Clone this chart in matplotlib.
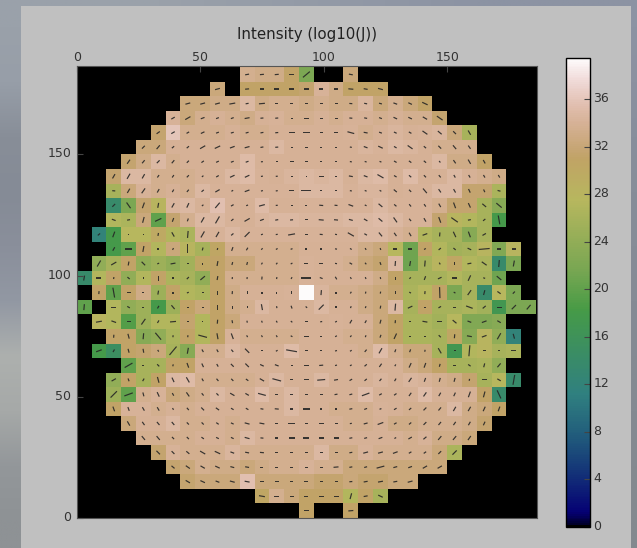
import numpy as np
import matplotlib
matplotlib.use("Agg")
import matplotlib.pyplot as plt
from matplotlib.colors import to_rgb
from matplotlib.patches import Rectangle
from matplotlib.transforms import ScaledTranslation

title = "Intensity (log10(J))"
x_ticks = [0, 50, 100, 150]
y_ticks = [0, 50, 100, 150]
cbar_ticks = [0, 4, 8, 12, 16, 20, 24, 28, 32, 36]
bin_size = 6
vmax = 39.46

# backdrop behind the grey panel, top to bottom
bg_left = ["#9aa1aa", "#979ea8", "#888e98", "#858b96", "#8a8f9b", "#9298a3", "#adb0ae", "#a6a9a8", "#93979a", "#8e9295"]
bg_right = ["#8c93a3", "#8b91a0", "#888e9c", "#878d99", "#868c97", "#858b95", "#848a93", "#848a92", "#838990", "#83898f"]

# first filled column of every row, top row first (0 below = hole in the row)
row_start = [11, 9, 7, 6, 5, 4, 3, 2, 2, 2, 2, 1, 2, 1, 0, 1, 0, 1, 2, 1, 3, 2, 2, 2, 3, 4, 5, 6, 7, 12, 15]

intensity = [
    [33.5, 33, 33, 31, 22, 0, 0, 32.3],
    [32.3, 0, 31, 31, 31, 31, 31.5, 34.2, 33, 31, 31, 31],
    [32.3, 32.3, 33, 33, 34.8, 33, 33.5, 33.5, 33, 33.5, 33, 33, 34.5, 32.3, 33.5, 32.3, 31],
    [34.2, 32.3, 33.5, 34, 33.5, 33, 34, 34.2, 33.5, 33.5, 34, 33.5, 34, 34, 33.5, 34, 33.5, 33.5, 31.5],
    [31.5, 36, 33.5, 33.5, 33.5, 34, 33.5, 33.5, 34, 34, 34, 34, 34, 34.2, 33.5, 34, 34.5, 34, 34.2, 34.5, 32.3, 26],
    [32.3, 32.3, 34, 34, 34, 34, 34, 34, 34, 34.8, 34, 34, 34, 34, 34, 34.5, 34.2, 34.8, 34.5, 34, 33.5, 33.5, 33.5],
    [31.5, 33, 34.8, 33.5, 34, 34, 34, 34, 35, 34, 34, 34, 34, 34, 34, 34, 34, 34, 34, 34, 34, 34.8, 33, 33, 31],
    [31.5, 34.8, 34.8, 33.5, 33.5, 33.5, 34, 34, 34.8, 35, 34.2, 34, 34.5, 34.8, 34.5, 34.8, 34, 34.8, 35, 34, 35, 34, 34, 34.8, 34, 33.5, 33],
    [26, 32.3, 34.2, 33.5, 34, 33.5, 34.8, 34.2, 34.2, 34.2, 34.2, 34.2, 34.2, 34.8, 34.8, 34.8, 34.2, 34.5, 34.5, 34, 34.2, 34.2, 34.8, 34.8, 31.5, 31.5, 26.5],
    [14, 22, 31.5, 28, 34.5, 34.8, 34, 35.5, 34.2, 34, 35, 34, 34, 34.2, 34.2, 34.2, 34.2, 34.2, 34.8, 34.2, 34.2, 34.2, 33.5, 31.5, 31.5, 26, 23],
    [27, 26.5, 32.3, 20, 31.5, 33.5, 34.8, 34.8, 34.2, 34, 34.5, 34.8, 34.8, 34.5, 34.5, 34.5, 34.8, 34.8, 35, 34.8, 34.2, 34.2, 31.5, 28, 27, 26, 18],
    [12, 18, 27.5, 27.5, 30, 27, 26.5, 34.2, 34.2, 34.8, 34.2, 34.2, 34.2, 34.2, 34.2, 34.2, 34.2, 34.2, 34.8, 34.8, 34.2, 33.5, 27, 26, 26, 23, 26],
    [18, 20, 31, 27, 32.3, 28, 26, 30.5, 33.5, 33.5, 33.5, 33.5, 33.5, 34, 34, 34, 34, 33, 32.3, 27.5, 21, 31, 27, 25.5, 26, 28, 22.5, 28],
    [24, 26, 31, 24, 25, 24, 25.5, 30.5, 31, 32.3, 32.3, 33.5, 33.5, 33.5, 34.2, 34, 34, 33.5, 32.3, 31.5, 34.8, 21, 26, 28, 30.5, 27, 26.5, 14, 22],
    [14, 27, 31, 24, 27, 31, 26.5, 26, 24, 31, 33.5, 33.5, 33.5, 33.5, 33.5, 34.2, 34, 34, 34, 34, 33, 31, 26, 26, 26, 27, 26, 26, 21],
    [31, 20, 31, 33, 25, 31, 27, 26.5, 31, 33, 34, 34, 34, 34.2, 39.5, 34.5, 33.5, 33.5, 33, 32.3, 31.5, 26.5, 27.5, 31, 22, 26, 14, 27.5, 22],
    [20, 0, 27, 24, 25, 18, 25, 31, 32.3, 31, 33, 33.5, 34.8, 34, 34, 34, 34.8, 34, 34, 33, 32.3, 34.8, 26, 31, 26, 26, 26.5, 25.5, 17, 22, 22],
    [28, 27, 19, 25, 27, 27, 31.5, 27, 31, 32.3, 34, 34, 34, 34, 34, 34, 34.2, 34, 34, 32.3, 31, 26.5, 26.5, 25.5, 27.5, 22.5, 22.5, 23],
    [31, 31, 23, 24, 26.5, 31, 27, 31, 34.2, 33.5, 33.5, 33.5, 33.5, 34, 34, 34, 33.5, 33.5, 32.3, 31, 26.5, 26.5, 26, 30.5, 23, 28, 24, 12],
    [18, 15, 31, 31.5, 32.3, 26, 23, 33.5, 33.5, 34.8, 34, 34, 34, 35, 34, 34, 34, 34, 33.5, 35, 33.5, 32.3, 32.3, 26, 17, 27, 28, 26, 26.5],
    [20, 26, 26, 31, 31, 34, 34, 34, 34, 34, 34, 34, 34, 34, 34, 34, 34, 34, 34, 33, 32.3, 31, 26, 26, 26.5, 24],
    [24, 31, 26, 31, 34.8, 35, 33.5, 33.5, 33.5, 33.5, 34, 34.8, 34, 34, 34.8, 34, 34, 34, 34.5, 34, 34.5, 34.2, 33.5, 33, 31.5, 26, 27.5, 14],
    [25, 20, 33.5, 34.2, 32.3, 33, 33.5, 34.8, 34, 34, 35, 34, 34.8, 34, 34, 34, 34, 35, 34, 34, 34, 35, 34, 34, 34, 31, 14],
    [31, 34.2, 34.2, 33.5, 34, 33.5, 34, 34, 34, 34, 34, 34, 34.8, 34, 34, 33.5, 33.5, 33.5, 34.2, 34, 33.5, 33.5, 33.5, 34.8, 33, 32.3, 31],
    [32.3, 34, 34, 34.8, 33.5, 33.5, 34, 33.5, 34, 34, 34, 34, 34, 34, 34, 33.5, 33.5, 34, 33, 33, 33.5, 33.5, 33.5, 33, 31.5],
    [33.5, 33.5, 33.5, 33.5, 34, 34, 33.5, 34.8, 34, 34, 34, 34, 34, 34, 34, 34, 34, 34, 33.5, 34.2, 33, 33, 32.3],
    [31.5, 34.2, 33.5, 33.5, 33.5, 34.5, 33.5, 33.5, 33.5, 33.5, 33.5, 34.8, 33, 33, 34.2, 33.5, 33.5, 33.5, 33.5, 32.3, 26.5],
    [31.5, 32.3, 33.5, 33, 33, 32.3, 33, 33.5, 33.5, 34.2, 33.5, 33.5, 32.3, 32.3, 32.3, 32.3, 32.3, 32.3, 32.3],
    [31.5, 32.3, 32.3, 32.3, 35.5, 32.3, 32.3, 32.3, 32.3, 31.5, 31.5, 32.3, 31.5, 31.5, 32.3, 32.3],
    [30.5, 33.5, 32.3, 31, 31, 31, 27, 31, 26],
    [31, 0, 0, 31],
]

# stick length in pixels, same layout as intensity
stick_len = [
    [4, 4, 4, 5, 9, 0, 0, 4],
    [5, 0, 4, 4, 5, 5, 5, 4, 4, 5, 4, 5],
    [5, 5, 5, 6, 3, 6, 3, 3, 3, 3, 3, 3, 3, 3, 4, 4, 6],
    [4, 6, 4, 3, 3, 5, 3, 3, 2, 5, 3, 3, 3, 3, 3, 4, 4, 5, 7],
    [4, 4, 3, 4, 3, 3, 3, 3, 3, 6, 7, 3, 4, 7, 4, 3, 3, 3, 6, 5, 4, 5],
    [4, 5, 3, 3, 6, 6, 5, 5, 3, 3, 2, 3, 2, 2, 2, 4, 5, 3, 6, 3, 4, 5, 4],
    [5, 4, 4, 4, 3, 3, 3, 3, 3, 2, 2, 4, 3, 2, 2, 2, 2, 2, 3, 3, 3, 2, 4, 5, 4],
    [5, 6, 5, 3, 3, 3, 2, 3, 5, 5, 2, 2, 2, 1.5, 5, 2, 4, 4, 7, 3, 3, 3, 3, 3, 3, 3, 3],
    [3, 5, 6, 4, 3, 3, 3, 5, 2, 5, 2, 2, 5, 10, 2, 2, 2, 2, 2, 4, 3, 6, 4, 4, 4, 3, 3],
    [4, 7, 6, 5, 5, 5, 2, 7, 3, 2, 6, 2, 2, 2, 4, 3, 5, 2, 5, 3, 3, 3, 4, 6, 5, 5, 7],
    [4, 3, 6, 7, 4, 3, 6, 8, 3, 6, 4, 3, 3, 3, 5, 4, 4, 4, 5, 6, 3, 4, 6, 8, 3, 3, 9],
    [3, 6, 1.5, 1.5, 3, 5, 7, 7, 6, 3, 7, 2, 2, 7, 3, 3, 2, 7, 3, 5, 4, 4, 5, 4, 6, 6, 4],
    [4, 7, 6, 1.5, 2, 9, 3, 2, 4, 3, 2, 2, 2, 2, 2, 2, 2, 2, 2, 4, 4, 2, 3, 3, 4, 11, 4, 4],
    [7, 6, 4, 5, 2, 5, 2, 2, 5, 3, 3, 2, 2, 2, 4, 4, 2, 3, 2, 3, 5, 5, 6, 2, 3, 4, 6, 7, 6],
    [5, 5, 2, 3, 1.5, 5, 2, 3, 6, 4, 2, 2, 3, 2, 2, 10, 3, 3, 2, 2, 2, 3, 2, 4, 4, 5, 6, 2, 6],
    [3, 10, 4, 2, 4, 2, 2, 2, 4, 3, 3, 2, 2, 3, 0, 5, 2, 2, 2, 2, 3, 2, 3, 11, 2, 6, 5, 4, 3],
    [6, 0, 5, 3, 2, 3, 5, 2, 2, 5, 3, 2, 6, 2, 3, 2, 7, 2, 2, 2, 3, 7, 5, 2, 3, 3, 7, 4, 5, 6, 6],
    [6, 5, 4, 7, 3, 6, 2, 1.5, 4, 3, 2, 2, 2, 2, 3, 2, 2, 4, 3, 4, 3, 2, 5, 5, 5, 4, 5, 4],
    [3, 5, 6, 9, 2, 2, 9, 6, 6, 2, 2, 2, 2, 5, 2, 2, 2, 2, 3, 6, 1.5, 2, 3, 4, 5, 5, 7, 5],
    [6, 3, 4, 4, 2, 11, 6, 3, 3, 3, 6, 2, 2, 11, 3, 2, 2, 2, 3, 6, 3, 3, 2, 6, 2, 11, 3, 2, 5],
    [9, 2, 3, 2, 5, 4, 3, 4, 5, 4, 4, 2, 5, 4, 2, 2, 3, 4, 2, 5, 5, 3, 3, 3, 4, 5],
    [5, 3, 3, 6, 5, 6, 3, 3, 3, 3, 5, 9, 3, 5, 8, 4, 3, 3, 3, 3, 5, 4, 4, 4, 2, 5, 4, 10],
    [9, 9, 4, 5, 3, 5, 3, 3, 5, 4, 8, 3, 3, 3, 3, 3, 3, 8, 3, 3, 4, 5, 4, 4, 6, 6, 9],
    [5, 4, 4, 4, 2, 3, 4, 4, 3, 3, 3, 4, 3, 7, 2, 2, 3, 3, 2, 3, 3, 4, 4, 5, 5, 5, 5],
    [5, 4, 4, 4, 3, 3, 3, 3, 5, 5, 3, 7, 3, 5, 3, 2, 4, 6, 3, 3, 4, 4, 4, 4, 4],
    [5, 5, 3, 3, 3, 3, 3, 5, 3, 3, 6, 6, 5, 5, 3, 3, 4, 2, 4, 4, 5, 5, 5],
    [5, 4, 4, 6, 6, 4, 4, 4, 3, 3, 3, 3, 3, 3, 5, 5, 5, 3, 3, 4, 6],
    [4, 5, 5, 5, 4, 4, 3, 3, 3, 3, 3, 5, 3, 3, 8, 4, 4, 5, 5],
    [5, 5, 4, 5, 5, 4, 4, 3, 4, 3, 3, 3, 4, 5, 4, 5],
    [6, 5, 4, 4, 5, 5, 6, 4, 5],
    [5, 0, 0, 5],
]

# stick angle in degrees from horizontal, same layout
stick_ang = [
    [10, 5, 5, 0, 40, 0, 0, -10],
    [15, 0, 5, 0, 0, 0, 0, 0, 0, -5, -10, -15],
    [15, 15, 15, 10, 10, 5, 0, 0, 0, 0, 0, -5, -10, -15, -20, -25, -25],
    [30, 30, 20, 20, 20, 10, 5, 5, 0, 0, 0, 0, -5, -10, -20, -25, -25, -30, -35],
    [35, 30, 30, 25, 20, 15, 15, 10, 5, 0, 0, 0, 0, -15, -10, -20, -25, -30, -35, -40, -45, -60],
    [45, 50, 40, 40, 30, 25, 20, 15, 10, 5, 0, 0, 0, 0, -10, -20, -25, -30, -35, -40, -45, -50, -55],
    [55, 50, 45, 50, 45, 35, 25, 20, 20, 5, 0, 0, 0, 0, 0, -10, -15, -20, -30, -35, -40, -50, -55, -60, -60],
    [60, 60, 60, 55, 55, 45, 40, 30, 25, 25, 10, 5, 0, 0, 0, 0, -10, -20, -30, -30, -40, -45, -50, -60, -60, -60, -60],
    [-5, 60, 55, 60, 60, 50, 40, 30, 30, 20, 15, 10, 0, 0, 0, 0, -10, -20, -30, -40, -45, -50, -55, -60, -65, -65, -15],
    [45, -55, 70, 80, 60, 65, 40, 50, 30, 20, 15, 5, 0, 0, -5, -5, -20, -25, -40, -40, -50, -55, -60, -70, -65, -40, -40],
    [-20, 10, 75, 25, 70, 70, 60, 60, 40, 30, 20, 10, 5, 0, -5, -5, -15, -30, -40, -55, -50, -60, -70, -35, 10, 40, -80],
    [40, 70, 0, 0, 80, -60, 85, 60, 60, 40, 45, 20, 10, 10, 0, -5, -10, -30, -30, -50, -55, -60, 20, 85, -65, -70, 30],
    [60, 0, 80, 0, 60, 90, 75, 75, 70, 60, 45, 30, 20, 0, 0, -10, -30, -60, -70, 0, 0, 30, 40, -40, -25, 5, 0, 0],
    [60, 30, 80, -45, 20, 10, 0, 90, 80, 75, 75, 60, 50, 30, 0, 0, -10, -30, -50, -70, 85, 80, 85, -60, 90, 10, -35, 85, 80],
    [80, 0, 80, -40, 0, 90, 0, 45, 40, 80, 85, 85, 85, 80, 60, 0, -20, -60, -60, -70, -80, 90, 40, 70, 25, 0, 65, -20, -40],
    [85, -80, 0, 0, 80, 90, 20, 0, 90, 85, 90, 90, 90, 90, 0, 85, -90, 60, 80, 80, 90, -30, 85, 92, -30, 55, 75, -35, 45],
    [85, 0, 0, -30, 0, 60, -50, 0, 0, 90, 90, -90, -80, -80, -70, -40, 45, 90, 70, 70, 80, 85, 25, 0, 30, 0, -20, 40, 0, 45, 50],
    [10, -20, 0, 55, 60, 5, 0, 0, 85, -80, -80, -70, -60, -40, 0, 10, 30, 60, 60, 75, 85, 0, -10, 0, -40, -20, 20, -30],
    [85, -75, 85, -50, 85, 85, -15, -80, -70, -60, -60, -60, -30, 0, 0, 30, 50, 70, 70, 65, 0, 0, -45, 85, -10, 20, 60, -75],
    [20, 60, -75, -80, -60, 50, 80, -60, -60, -50, -45, 0, 30, -10, 0, 0, 15, 30, 50, 60, 70, 70, 80, -60, 0, 85, 0, 0, 0],
    [30, 0, -45, 75, -70, -65, -60, -45, -45, -25, -20, 0, 0, 5, 15, 30, 40, 55, 60, 65, 70, 75, 0, -35, 75, 50],
    [30, -70, 60, -75, -65, -60, -60, -50, -45, -35, -30, -15, 0, 0, 5, 10, 30, 40, 50, 60, 55, 70, 75, 75, 80, 0, -30, 80],
    [45, 20, -75, -65, -60, -55, -50, -45, -30, -30, -15, 0, 0, 0, 0, 10, 15, 20, 30, 35, 55, 55, 60, 65, 70, 75, -65],
    [-70, -70, -60, -60, -60, -50, -45, -35, -30, -30, -10, -5, 0, 0, 0, 0, 10, 20, 20, 30, 40, 45, 50, 60, 60, 65, 70],
    [-60, -55, -50, -50, -45, -45, -35, -25, -15, -10, 0, 0, 0, 0, 0, 10, 15, 20, 30, 40, 45, 50, 55, 60, 65],
    [-50, -50, -45, -45, -35, -25, -25, -15, -5, 0, 0, 0, 0, 0, 10, 15, 20, 30, 30, 40, 50, 50, 55],
    [-45, -45, -40, -30, -25, -20, -10, -5, 0, 0, 0, 0, 0, 10, 15, 15, 20, 30, 35, 45, 45],
    [-40, -35, -30, -25, -15, -10, 0, 0, 0, 0, 0, 5, 10, 15, 15, 15, 20, 30, 30],
    [-30, -25, -20, -15, -10, 0, 0, 0, 0, 0, 0, 5, 10, 10, 10, 15],
    [-10, 0, 0, 0, 0, 0, 75, 10, -25],
    [0, 0, 0, 5],
]


def to_grid(rows, n=31):
    # rows are listed top first, pcolormesh wants the bottom row first
    grid = np.zeros((n, n))
    for t, row in enumerate(rows):
        start = row_start[t]
        grid[n - 1 - t, start:start + len(row)] = row
    return grid


val = to_grid(intensity)
length = to_grid(stick_len)
angle = np.radians(to_grid(stick_ang))
n_rows, n_cols = val.shape

fig = plt.figure(figsize=(6.37, 5.48), dpi=100)

# photo-like backdrop and the grey window on top of it
bg = np.array([[to_rgb(a), to_rgb(b)] for a, b in zip(bg_left, bg_right)])
ax_bg = fig.add_axes([0, 0, 1, 1], zorder=0)
ax_bg.imshow(bg, aspect="auto", interpolation="bilinear")
ax_bg.axis("off")
fig.add_artist(Rectangle((21 / 637, 0), 610 / 637, 542 / 548, transform=fig.transFigure,
                         facecolor="#c0c0c0", edgecolor="none", zorder=0.5))

ax = fig.add_axes([76.7 / 637, 30 / 548, 460.6 / 637, 452 / 548], zorder=1)
ax.set_facecolor("black")
x_edges = np.arange(n_cols + 1) * bin_size
y_edges = np.arange(n_rows + 1) * bin_size
mesh = ax.pcolormesh(x_edges, y_edges, np.ma.masked_equal(val, 0), cmap="gist_earth", vmin=0, vmax=vmax)

xc = (np.arange(n_cols) + 0.5) * bin_size
yc = (np.arange(n_rows) + 0.5) * bin_size
xx, yy = np.meshgrid(xc, yc)
keep = length > 0
ax.quiver(xx[keep], yy[keep], length[keep] * np.cos(angle[keep]), length[keep] * np.sin(angle[keep]),
          angles="uv", scale_units="dots", scale=1, units="dots", width=1.2, pivot="mid",
          headwidth=1, headlength=0, headaxislength=0, minlength=0, color="#262626", alpha=0.9)

ax.set_xlim(0, 186.5)
ax.set_ylim(0, 186.5)
ax.set_xticks(x_ticks)
ax.set_yticks(y_ticks)
ax.xaxis.tick_top()
ax.tick_params(direction="in", length=4, color="#444444", labelcolor="#333333", labelsize=9, pad=1.5)
ax.tick_params(axis="y", pad=4)
for s in ax.spines.values():
    s.set_color("#555555")
    s.set_linewidth(0.8)

fig.text(307 / 637, 1 - 34 / 548, title, ha="center", va="center", fontsize=10.8, color="#222222", zorder=2)

cax = fig.add_axes([566.3 / 637, (548 - 526.7) / 548, 23.4 / 637, 468.4 / 548], zorder=1)
cbar = fig.colorbar(mesh, cax=cax, ticks=cbar_ticks)
cbar.ax.tick_params(direction="in", length=4, color="#444444", labelcolor="#333333", labelsize=9, pad=2.5)
cbar.outline.set_edgecolor("black")
cbar.outline.set_linewidth(1)

# labels sit a little above their ticks in the reference
nudge = ScaledTranslation(0, 1.5 / 72, fig.dpi_scale_trans)
for lbl in ax.get_yticklabels() + cbar.ax.get_yticklabels():
    lbl.set_transform(lbl.get_transform() + nudge)

fig.savefig("out.png", dpi=100)
